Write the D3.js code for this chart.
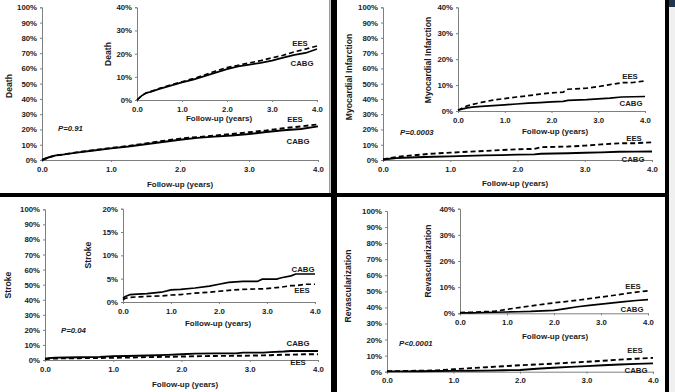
<!DOCTYPE html>
<html><head><meta charset="utf-8">
<script src="https://cdn.jsdelivr.net/npm/d3@7"></script>
<style>
html,body{margin:0;padding:0;background:#fff;}
svg{display:block;font-family:"Liberation Sans",Arial,sans-serif;}
</style></head>
<body>
<svg id="c" width="675" height="392"></svg>
<script>
// ---------- DATA ----------
const xTicks = [0, 1, 2, 3, 4];
const xTickLabels = ["0.0", "1.0", "2.0", "3.0", "4.0"];
const mainYTicks = [0,10,20,30,40,50,60,70,80,90,100];
const inset40Ticks = [0,10,20,30,40];
const inset20Ticks = [0,5,10,15,20];

const deathTimes = [0,0.1,0.2,0.3,0.5,0.75,1.0,1.25,1.5,1.75,2.0,2.25,2.5,2.75,3.0,3.25,3.5,3.75,4.0];
const deathCABG  = [0,1.8,3.0,3.5,4.8,6.2,7.6,8.8,10.3,11.8,13.3,14.5,15.3,16.0,17.0,18.3,19.5,20.3,22.0];
const deathEES   = [0,1.8,3.0,3.6,5.0,6.5,7.9,9.2,10.8,12.5,14.0,15.0,16.0,17.0,18.2,19.3,20.8,22.0,23.3];

const miTimes = [0,0.1,0.2,0.3,0.5,0.75,1.0,1.25,1.5,1.75,2.0,2.25,2.35,2.75,3.0,3.25,3.5,3.75,4.0];
const miCABG  = [0.3,0.8,1.2,1.5,1.8,2.1,2.4,2.7,3.0,3.2,3.5,3.7,4.1,4.4,4.7,5.0,5.4,5.5,5.6];
const miEES   = [0.3,1.2,2.0,2.5,3.3,4.2,4.8,5.4,5.9,6.5,7.0,7.3,8.4,8.8,9.4,10.2,10.9,11.0,11.6];

const strokeTimes = [0,0.05,0.15,0.3,0.5,0.8,1.0,1.2,1.5,1.8,2.0,2.2,2.5,2.8,2.9,3.2,3.3,3.5,3.6,3.8,4.0];
const strokeCABG  = [0.8,1.2,1.6,1.7,1.8,2.1,2.6,2.7,3.0,3.4,3.8,4.2,4.4,4.4,4.9,4.9,5.2,5.6,6.0,6.0,6.0];
const strokeEES   = [0.5,0.8,1.0,1.1,1.2,1.3,1.5,1.6,1.9,2.1,2.3,2.5,2.7,2.8,2.8,3.1,3.2,3.5,3.5,3.8,3.8];

const revTimes = [0,0.25,0.5,0.75,1.0,1.25,1.5,1.75,2.0,2.25,2.5,2.75,3.0,3.25,3.5,3.75,4.0];
const revCABG  = [0.2,0.2,0.3,0.4,0.5,0.6,0.7,0.9,1.1,1.8,2.5,3.0,3.5,4.0,4.5,4.9,5.2];
const revEES   = [0.3,0.4,0.6,0.8,1.5,2.2,2.8,3.4,4.0,4.5,5.0,5.6,6.2,6.8,7.5,8.1,8.6];

const pValues = ["P=0.91", "P=0.0003", "P=0.04", "P<0.0001"];
const endpointNames = ["Death", "Myocardial Infarction", "Stroke", "Revascularization"];
const xTitleText = "Follow-up (years)";

// ---------- LAYOUT ----------
const panels = [
  { name: endpointNames[0], times: deathTimes, cabg: deathCABG, ees: deathEES, p: pValues[0], pPos:[58,128],
    main:{x0:42,x1:318,y0:160,y1:7.3,yt:[9,86],xt:[180,184],lab:{ees:[295,119],cabg:[298,141]}},
    inset:{x0:137,x1:317,y0:100,y1:7.3,max:40,ticks:inset40Ticks,yt:[108,54],xt:[219,118],lab:{ees:[300,43],cabg:[302,63]}} },
  { name: endpointNames[1], times: miTimes, cabg: miCABG, ees: miEES, p: pValues[1], pPos:[400,132],
    main:{x0:383,x1:652,y0:160,y1:7.3,yt:[349,77],xt:[515,183],lab:{ees:[634,138],cabg:[633,159]}},
    inset:{x0:458,x1:645,y0:111,y1:7.3,max:40,ticks:inset40Ticks,yt:[428,60],xt:[555,131],lab:{ees:[630,76],cabg:[631,103]}} },
  { name: endpointNames[2], times: strokeTimes, cabg: strokeCABG, ees: strokeEES, p: pValues[2], pPos:[61,330],
    main:{x0:45,x1:318,y0:360,y1:209.3,yt:[8,285],xt:[185,384],lab:{cabg:[298,343],ees:[298,362]}},
    inset:{x0:123,x1:315,y0:302,y1:208.7,max:20,ticks:inset20Ticks,yt:[88,255],xt:[218,323],lab:{cabg:[303,269],ees:[302,290]}} },
  { name: endpointNames[3], times: revTimes, cabg: revCABG, ees: revEES, p: pValues[3], pPos:[399,343],
    main:{x0:387,x1:653,y0:371.7,y1:211,yt:[348,286],xt:null,lab:{ees:[635,350],cabg:[636,370]}},
    inset:{x0:460,x1:648,y0:313.3,y1:208.7,max:40,ticks:inset40Ticks,yt:[428,261],xt:[555,336],lab:{ees:[633,286],cabg:[632,309]}} }
];

const svg = d3.select("#c");
const TXT = "#1a1a1a", AX = "#7f7f7f";
const FS = 7.8;

// panel frames
svg.append("rect").attr("x",669).attr("y",0).attr("width",6).attr("height",392).attr("fill","#f0f0f0");
svg.append("rect").attr("x",668).attr("y",0).attr("width",7).attr("height",7).attr("fill","#1f3550");
svg.append("rect").attr("x",0).attr("y",193).attr("width",668).attr("height",4).attr("fill","#000");
svg.append("rect").attr("x",329).attr("y",0).attr("width",1.5).attr("height",193).attr("fill","#999");
svg.append("rect").attr("x",331).attr("y",0).attr("width",6).attr("height",392).attr("fill","#000");
svg.append("rect").attr("x",665).attr("y",0).attr("width",4).attr("height",392).attr("fill","#000");

function drawChart(g, P, c, yMax, yTicks, lineW) {
  const x = d3.scaleLinear().domain([0,4]).range([c.x0, c.x1]);
  const y = d3.scaleLinear().domain([0,yMax]).range([c.y0, c.y1]);

  const ya = g.append("g").attr("transform",`translate(${c.x0},0)`)
    .call(d3.axisLeft(y).tickValues(yTicks).tickSize(2).tickPadding(3).tickFormat(d => d + "%"));
  const xa = g.append("g").attr("transform",`translate(0,${c.y0})`)
    .call(d3.axisBottom(x).tickValues(xTicks).tickSize(2).tickPadding(4).tickFormat((d,i) => xTickLabels[i]));
  [ya, xa].forEach(a => {
    a.select(".domain").attr("stroke", AX).attr("stroke-width", 1);
    a.selectAll(".tick line").attr("stroke", AX);
    a.selectAll("text").attr("fill", TXT).attr("font-size", FS).attr("font-weight","bold");
  });

  const line = d3.line().x((d,i) => x(P.times[i])).y(d => y(d)).curve(d3.curveLinear);
  g.append("path").datum(P.cabg).attr("d", line).attr("fill","none")
    .attr("stroke","#000").attr("stroke-width", lineW);
  g.append("path").datum(P.ees).attr("d", line).attr("fill","none")
    .attr("stroke","#000").attr("stroke-width", lineW).attr("stroke-dasharray","5,3");

  if (c.xt) {
    g.append("text").attr("x", c.xt[0]).attr("y", c.xt[1]).attr("dy","0.35em")
      .attr("text-anchor","middle").attr("font-size", 8).attr("font-weight","bold").attr("fill",TXT)
      .text(xTitleText);
  }
  g.append("text").attr("transform",`translate(${c.yt[0]},${c.yt[1]}) rotate(-90)`).attr("dy","0.35em")
    .attr("text-anchor","middle").attr("font-size", 8.6).attr("font-weight","bold").attr("fill",TXT)
    .text(P.name);
  [["EES", c.lab.ees], ["CABG", c.lab.cabg]].forEach(([t,pos]) => {
    g.append("text").attr("x",pos[0]).attr("y",pos[1]).attr("dy","0.35em")
      .attr("text-anchor","middle").attr("font-size", FS).attr("font-weight","bold").attr("fill",TXT)
      .text(t);
  });
}

panels.forEach(P => {
  const g = svg.append("g");
  drawChart(g, P, P.main, 100, mainYTicks, 1.9);
  drawChart(g, P, P.inset, P.inset.max, P.inset.ticks, 1.7);
  g.append("text").attr("x", P.pPos[0]).attr("y", P.pPos[1]).attr("dy","0.35em")
    .attr("font-size", FS).attr("font-weight","bold").attr("font-style","italic").attr("fill",TXT)
    .text(P.p);
});
</script>
</body></html>
